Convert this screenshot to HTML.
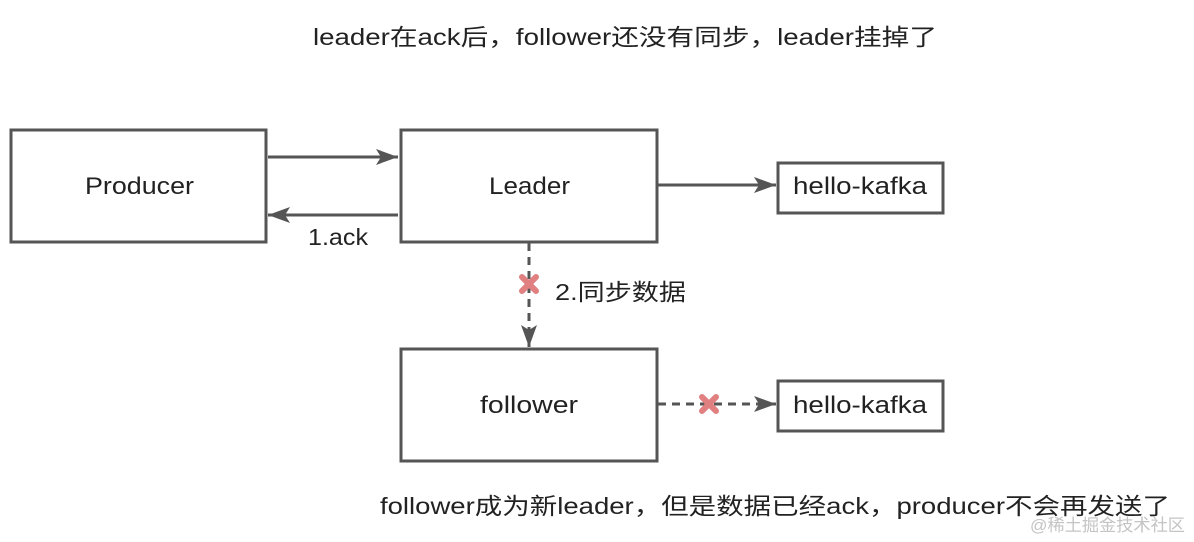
<!DOCTYPE html>
<html><head><meta charset="utf-8"><style>
html,body{margin:0;padding:0;background:#fff;}
svg{display:block;}
text{font-family:"Liberation Sans","Noto Sans CJK SC",sans-serif;fill:#222;}
</style></head><body>
<svg width="1194" height="542" viewBox="0 0 1194 542" xmlns="http://www.w3.org/2000/svg">
<defs>
<marker id="b" viewBox="0 0 22 16" markerWidth="22" markerHeight="16" refX="22" refY="8" orient="auto" markerUnits="userSpaceOnUse">
<path d="M0,0 L22,8 L0,16 L5,8 Z" fill="#555"/>
</marker>
</defs>
<text x="313" y="45" font-size="23" textLength="624" lengthAdjust="spacingAndGlyphs">leader在ack后，follower还没有同步，leader挂掉了</text>
<g fill="none" stroke="#555" stroke-width="3">
<rect x="11" y="130" width="255" height="112"/>
<rect x="401" y="130" width="256" height="112"/>
<rect x="778" y="163" width="165" height="50"/>
<rect x="401" y="349" width="256" height="112"/>
<rect x="778" y="381" width="165" height="50"/>
<line x1="268" y1="157" x2="398" y2="157" marker-end="url(#b)"/>
<line x1="398" y1="215" x2="268" y2="215" marker-end="url(#b)"/>
<line x1="657" y1="185" x2="776" y2="185" marker-end="url(#b)"/>
<line x1="529" y1="243" x2="529" y2="347" stroke-dasharray="8,6" marker-end="url(#b)"/>
<line x1="658" y1="404" x2="776" y2="404" stroke-dasharray="8,6" marker-end="url(#b)"/>
</g>
<g stroke="#e08080" stroke-width="6" stroke-linecap="round">
<line x1="522" y1="277" x2="536" y2="291"/><line x1="536" y1="277" x2="522" y2="291"/>
<line x1="702" y1="397" x2="716" y2="411"/><line x1="716" y1="397" x2="702" y2="411"/>
</g>
<text x="85" y="194" font-size="24" textLength="109" lengthAdjust="spacingAndGlyphs">Producer</text>
<text x="489" y="194" font-size="24" textLength="81" lengthAdjust="spacingAndGlyphs">Leader</text>
<text x="793" y="194" font-size="24" textLength="134" lengthAdjust="spacingAndGlyphs">hello-kafka</text>
<text x="480" y="413" font-size="24" textLength="98" lengthAdjust="spacingAndGlyphs">follower</text>
<text x="793" y="413" font-size="24" textLength="134" lengthAdjust="spacingAndGlyphs">hello-kafka</text>
<text x="308" y="245" font-size="23" textLength="60" lengthAdjust="spacingAndGlyphs">1.ack</text>
<text x="555" y="300" font-size="23" textLength="131" lengthAdjust="spacingAndGlyphs">2.同步数据</text>
<text x="380" y="514" font-size="23" textLength="790" lengthAdjust="spacingAndGlyphs">follower成为新leader，但是数据已经ack，producer不会再发送了</text>
<text x="1030" y="531" font-size="17" textLength="155" lengthAdjust="spacingAndGlyphs" style="fill:#c4c4c4">@稀土掘金技术社区</text>
</svg>
</body></html>
